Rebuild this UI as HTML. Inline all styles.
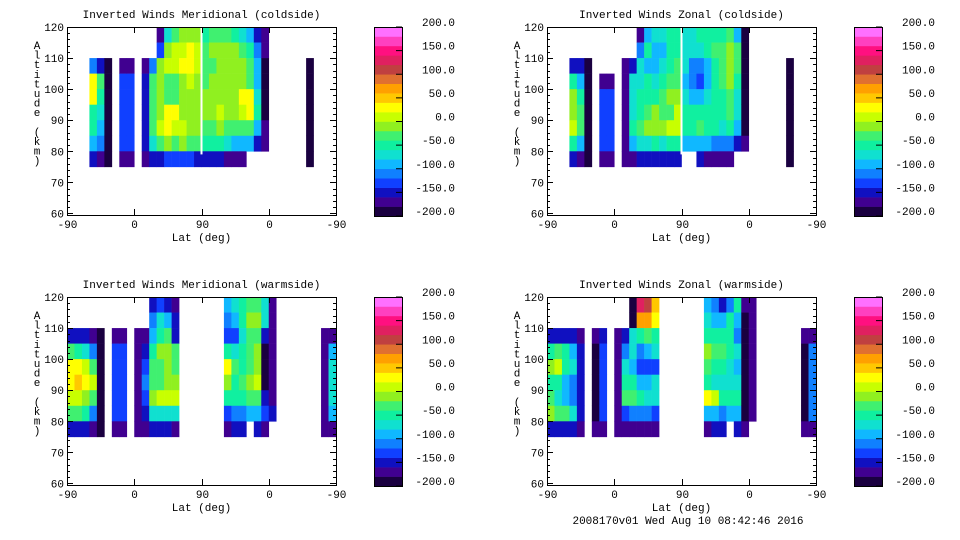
<!DOCTYPE html>
<html><head><meta charset="utf-8">
<style>
body{margin:0;background:#fff;}
svg{display:block;font-family:"Liberation Mono",monospace;}
</style></head>
<body>
<svg id="fig" width="960" height="540" viewBox="0 0 960 540" xmlns="http://www.w3.org/2000/svg"></svg>
<script>
// Data: values (m/s) per 10-unit latitude column (0..35), rows from altitude 120-115 down to 80-75 km
const rowTops=[120,115,110,105,100,95,90,85,80];
const levelColors=["#1a0040","#400090","#1010c0","#1040ff","#1080ff","#10b8ff","#10e0d0","#10f0a0","#40f070","#90f020","#c8ff00","#ffff00","#ffc800","#ffa000","#e07030","#c04040","#e02060","#ff1080","#ff40c0","#ff70ff"];
const cbLabels=[200,150,100,50,0,-50,-100,-150,-200];
const xTickVals=[0,90,180,270,360];
const xTickLabels=["-90","0","90","0","-90"];
const yTicks=[60,70,80,90,100,110,120];
const N=null;

const p1Cols=[3,4,5,7,8,10,11,12,13,14,15,16,17,18,19,20,21,22,23,24,25,26,32];
const p1Vals=[
[N,N,-120,20,30,-50,-60,-100,-160],[N,N,-150,-40,-60,-80,-90,-120,-170],[N,N,-190,-190,-190,-190,-190,-190,-190],
[N,N,-170,-140,-140,-140,-140,-140,-170],[N,N,-170,-140,-140,-140,-140,-140,-170],
[N,N,-180,-150,-150,-150,-150,-160,-180],[N,N,-120,-40,-30,-30,-40,-80,-160],
[-170,-140,-10,-10,-10,-10,10,-40,-150],[-80,-10,10,-30,-40,20,20,-20,-140],[-30,10,10,-40,-40,20,10,-30,-140],
[-20,10,20,-10,-20,-10,10,-20,-140],[-20,20,20,0,-20,-10,-10,-30,-140],[-20,0,0,-10,-10,-20,-20,-40,-150],
[-60,-40,-40,-30,-10,-20,-40,-60,-150],[-40,-20,-30,-20,-10,-10,-30,-60,-160],[-30,-10,-10,-20,-20,10,-20,-60,-160],
[-30,-20,-10,-20,-20,-10,-30,-80,-170],[-50,-20,-10,-20,-10,-20,-40,-100,-170],[-80,-30,-20,-20,20,10,-30,-90,-180],
[-100,-60,-40,-30,20,20,-30,-100,N],[-150,-120,-100,-90,-80,-60,-100,-150,N],[-180,-180,-190,-190,-190,-190,-180,-180,N],
[N,N,-190,-190,-190,-190,-190,-190,-190]];

const p2Cols=[3,4,5,7,8,10,11,12,13,14,15,16,17,18,19,20,21,22,23,24,25,26,32];
const p2Vals=[
[N,N,-150,-60,-10,-10,10,-60,-160],[N,N,-160,-100,-60,-40,-40,-100,-170],[N,N,-190,-190,-190,-190,-190,-190,-190],
[N,N,N,-170,-140,-140,-140,-140,-170],[N,N,N,-170,-140,-140,-140,-140,-170],
[N,N,-180,-180,-180,-180,-180,-180,-180],[N,N,-150,-80,-70,-80,-60,-100,-170],
[-170,-120,-80,-70,-60,-50,-30,-80,-160],[-90,-60,-90,-60,-50,-40,-20,-70,-160],[-70,-90,-100,-70,-50,-20,-10,-60,-150],
[-70,-90,-80,-60,-40,-40,-20,-70,-160],[-60,-60,-50,-40,-20,-30,0,-50,-150],[-60,-50,-40,-30,-10,10,10,-50,-150],
[-70,-70,-80,-90,-70,-60,-60,-90,N],[-70,-80,-110,-120,-90,-60,-50,-100,N],[-60,-70,-120,-130,-100,-60,-40,-90,-160],
[-60,-50,-90,-90,-70,-60,-50,-100,-170],[-50,-40,-50,-60,-60,-60,-60,-110,-170],[-50,-30,-30,-40,-50,-60,-70,-110,-180],
[-40,-10,-20,-20,-30,-40,-60,-120,-180],[-100,-40,-30,-60,-80,-80,-100,-150,N],[-190,-190,-190,-190,-190,-190,-190,-180,N],
[N,N,-190,-190,-190,-190,-190,-190,-190]];

const p3Cols=[0,1,2,3,4,6,7,9,10,11,12,13,14,21,22,23,24,25,26,27,34,35];
const p3Vals=[
[N,N,-160,-40,20,30,0,-40,-150],[N,N,-160,-60,30,40,0,-40,-160],[N,N,-160,-80,10,20,-10,-60,-160],
[N,N,-170,-120,-30,0,-40,-120,-170],[N,N,-190,-190,-190,-190,-190,-190,-190],
[N,N,-170,-140,-140,-140,-140,-140,-170],[N,N,-170,-140,-140,-140,-140,-140,-170],
[N,N,-170,-170,-170,-170,-170,-170,-170],[N,N,-170,-150,-130,-120,-130,-150,-170],
[-160,-120,-90,-50,-40,-30,-20,-80,-160],[-140,-80,-50,-20,-40,-40,0,-70,-160],[-150,-90,-40,-20,-20,-20,10,-70,-160],
[-170,-160,-150,-30,-30,-10,10,-80,-170],
[-100,-120,-140,-60,20,-20,-60,-130,-170],[-80,-90,-130,-80,-40,-50,-60,-120,-160],[-60,-60,-80,-60,-50,-40,-60,-110,-150],
[-40,-20,-40,-40,-30,-20,-40,-90,N],[-40,-10,-30,-20,-10,10,-30,-90,-160],[-80,-80,-150,-190,-190,-190,-150,-140,-170],
[-170,-170,-170,-180,-180,-180,-170,-160,N],
[N,N,-170,-180,-180,-180,-180,-180,-170],[N,N,-170,-100,-80,-80,-80,-100,-170]];

const p4Cols=[0,1,2,3,4,6,7,9,10,11,12,13,14,21,22,23,24,25,26,27,34,35];
const p4Vals=[
[N,N,-160,-60,-20,-50,-40,-20,-150],[N,N,-160,-40,0,-60,-70,-40,-160],[N,N,-160,-60,-60,-90,-100,-40,-160],
[N,N,-160,-90,-80,-110,-120,-70,-160],[N,N,-170,-150,-150,-160,-160,-150,-170],
[N,N,-170,-190,-190,-190,-190,-190,-170],[N,N,-160,-140,-140,-140,-140,-140,-170],
[N,N,-170,-170,-170,-170,-170,-170,-170],[N,N,-160,-110,-80,-60,-30,-140,-170],
[-190,-190,-80,-80,-100,-60,-40,-120,-170],[130,60,-60,-110,-130,-90,-60,-120,-170],[110,60,-40,-100,-130,-100,-70,-120,-170],
[40,20,-60,-80,-130,-80,-80,-130,-170],
[-100,-80,-60,-10,-30,-60,20,-90,-170],[-120,-90,-60,-40,-50,-70,0,-100,-160],[-150,-100,-50,-40,-60,-80,-50,-110,-150],
[-120,-60,-50,-60,-70,-70,-60,-100,N],[-60,-90,-110,-80,-90,-70,-60,-100,-160],[-170,-190,-190,-190,-190,-190,-190,-190,-170],
[-170,-170,-170,-170,-170,-170,-170,-170,N],
[N,N,-170,-190,-190,-190,-190,-190,-170],[N,N,-170,-110,-110,-110,-110,-110,-170]];

const panels=[
 {name:"meridional-coldside",title:"Inverted Winds Meridional (coldside)",x0:67,y0:27,cols:p1Cols,vals:p1Vals},
 {name:"zonal-coldside",title:"Inverted Winds Zonal (coldside)",x0:547,y0:27,cols:p2Cols,vals:p2Vals},
 {name:"meridional-warmside",title:"Inverted Winds Meridional (warmside)",x0:67,y0:297,cols:p3Cols,vals:p3Vals},
 {name:"zonal-warmside",title:"Inverted Winds Zonal (warmside)",x0:547,y0:297,cols:p4Cols,vals:p4Vals}
];
const W=269,H=188,YMIN=59.5,YMAX=120;
const NS="http://www.w3.org/2000/svg";
const svg=document.getElementById('fig');
function mk(tag,attrs,parent){const e=document.createElementNS(NS,tag);for(const k in attrs)e.setAttribute(k,attrs[k]);(parent||svg).appendChild(e);return e;}
function colorFor(v){let k=Math.floor((v+200)/20);k=Math.max(0,Math.min(19,k));return levelColors[k];}

panels.forEach(p=>{
  const xs=u=>p.x0+u*W/360;
  const ys=a=>p.y0+(YMAX-a)/(YMAX-YMIN)*H;
  const g=mk('g',{});
  
  
  const t=mk('text',{x:p.x0+W/2,y:p.y0-9,'font-size':11,'text-anchor':'middle',fill:'#000'},g);
  t.textContent=p.title;
  
  
  // cells
  p.cols.forEach((c,i)=>{
    p.vals[i].forEach((v,r)=>{
      if(v===null)return;
      const top=rowTops[r];
      const cell=mk('rect',{x:xs(c*10),y:ys(top),width:xs(c*10+10)-xs(c*10)+0.3,height:ys(top-5)-ys(top)+0.3,fill:colorFor(v)},g);
      
      
    });
  });
  if(p.y0<100){const gap=mk('rect',{x:xs(180)-1,y:p.y0,width:2,height:ys(79)-p.y0,fill:'#fff'},g);
    }
  // frame
  const fr=mk('rect',{x:p.x0+0.5,y:p.y0+0.5,width:W,height:H,fill:'none',stroke:'#000','stroke-width':1},g);
  
  
  // y minor ticks
  for(let a=60;a<=120;a+=2){
    const yy=Math.round(ys(a))+0.5;const L=(a%10===0)?6:3;
    mk('line',{x1:p.x0,y1:yy,x2:p.x0+L,y2:yy,stroke:'#000'},g);
    mk('line',{x1:p.x0+W,y1:yy,x2:p.x0+W-L,y2:yy,stroke:'#000'},g);
  }
  yTicks.forEach(a=>{
    const tl=mk('text',{x:p.x0-3,y:ys(a)+4,'font-size':11,'text-anchor':'end',fill:'#000'},g);
    tl.textContent=a;
    
    
  });
  xTickVals.forEach((u,i)=>{
    const xx=Math.round(xs(u))+0.5;
    mk('line',{x1:xx,y1:p.y0+H,x2:xx,y2:p.y0+H-6,stroke:'#000'},g);
    mk('line',{x1:xx,y1:p.y0,x2:xx,y2:p.y0+6,stroke:'#000'},g);
    const tl=mk('text',{x:xx,y:p.y0+H+13,'font-size':11,'text-anchor':'middle',fill:'#000'},g);
    tl.textContent=xTickLabels[i];
    
    
  });
  const xt=mk('text',{x:p.x0+W/2,y:p.y0+H+26,'font-size':11,'text-anchor':'middle',fill:'#000'},g);
  xt.textContent='Lat (deg)';
  
  
  const yt=mk('text',{x:p.x0-30,y:p.y0+22,'font-size':11,'text-anchor':'middle',fill:'#000'},g);
  
  
  "Altitude (km)".split('').forEach((ch,i)=>{const ts=mk('tspan',{x:p.x0-30,y:p.y0+22+i*9.6},yt);ts.textContent=ch;});
  // colorbar
  const cbx=p.x0+307,cbw=28,cbh=189;
  const cb=mk('g',{},g);
  
  
  levelColors.forEach((col,k)=>{
    mk('rect',{x:cbx,y:p.y0+cbh-(k+1)*cbh/20,width:cbw,height:cbh/20+0.3,fill:col},cb);
  });
  mk('rect',{x:cbx+0.5,y:p.y0+0.5,width:cbw,height:cbh,fill:'none',stroke:'#000'},cb);
  cbLabels.forEach(v=>{
    const yy=p.y0+(200-v)/400*cbh;
    mk('line',{x1:cbx+cbw-6,y1:yy,x2:cbx+cbw,y2:yy,stroke:'#000'},cb);
    const l=mk('text',{x:cbx+81,y:yy-1,'font-size':11,'text-anchor':'end',fill:'#000'},cb);
    l.textContent=v.toFixed(1);
    
    
  });
});
const ft=mk('text',{x:688,y:524,'font-size':11,'text-anchor':'middle',fill:'#000'});
ft.textContent='2008170v01 Wed Aug 10 08:42:46 2016';


</script>
</body></html>
